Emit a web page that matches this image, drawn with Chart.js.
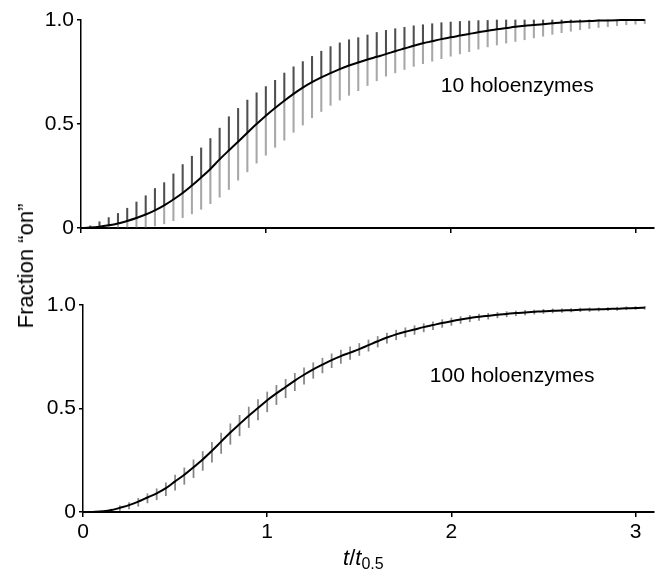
<!DOCTYPE html>
<html>
<head>
<meta charset="utf-8">
<script src="https://cdn.jsdelivr.net/npm/chart.js@4/dist/chart.umd.min.js"></script>
<style>
    body { margin: 0; background: #fff; }
    #wrap { position: relative; width: 664px; height: 571px; font-family: "Liberation Sans", Arial, sans-serif; color: #000; }
    .panel { position: absolute; left: 0; width: 664px; }
    #top-panel { top: 0; height: 250px; }
    #bottom-panel { top: 250px; height: 321px; }
    #y-title { position: absolute; left: 26px; top: 266px; transform: translate(-50%, -50%) rotate(-90deg); font-size: 22px; white-space: nowrap; }
    #x-title { position: absolute; left: 343px; top: 545px; font-size: 22px; white-space: nowrap; }
    #x-title sub { font-size: 16px; font-style: normal; vertical-align: -4px; }
</style>
</head>
<body>
<div id="wrap">
    <div class="panel" id="top-panel"><canvas id="chart-10"></canvas></div>
    <div class="panel" id="bottom-panel"><canvas id="chart-100"></canvas></div>
    <div id="y-title">Fraction “on”</div>
    <div id="x-title"><i>t</i>/<i>t</i><sub>0.5</sub></div>
</div>
<script>
// t / t0.5
const times = [
    0, 0.05, 0.1, 0.15, 0.2, 0.25, 0.3, 0.35, 0.4, 0.45,
    0.5, 0.55, 0.6, 0.65, 0.7, 0.75, 0.8, 0.85, 0.9, 0.95,
    1.0, 1.05, 1.1, 1.15, 1.2, 1.25, 1.3, 1.35, 1.4, 1.45,
    1.5, 1.55, 1.6, 1.65, 1.7, 1.75, 1.8, 1.85, 1.9, 1.95,
    2.0, 2.05, 2.1, 2.15, 2.2, 2.25, 2.3, 2.35, 2.4, 2.45,
    2.5, 2.55, 2.6, 2.65, 2.7, 2.75, 2.8, 2.85, 2.9, 2.95,
    3.0, 3.05,
];

// 10 holoenzymes
const mean10 = [
    0, 0.002, 0.006, 0.013, 0.022, 0.034, 0.048, 0.065, 0.085, 0.109,
    0.137, 0.168, 0.204, 0.243, 0.284, 0.33, 0.373, 0.415, 0.458, 0.5,
    0.54, 0.577, 0.612, 0.645, 0.675, 0.701, 0.724, 0.745, 0.764, 0.781,
    0.796, 0.81, 0.823, 0.836, 0.85, 0.863, 0.876, 0.888, 0.898, 0.908,
    0.917, 0.925, 0.933, 0.941, 0.948, 0.955, 0.961, 0.967, 0.972, 0.976,
    0.98, 0.984, 0.988, 0.991, 0.993, 0.995, 0.997, 0.998, 0.999, 1.0,
    1.0, 1.0,
];
const hi10 = [
    0, 0.01, 0.03, 0.05, 0.07, 0.095, 0.125, 0.155, 0.19, 0.218,
    0.26, 0.305, 0.345, 0.385, 0.43, 0.48, 0.535, 0.575, 0.615, 0.65,
    0.68, 0.71, 0.745, 0.775, 0.8, 0.825, 0.85, 0.872, 0.89, 0.905,
    0.915, 0.928, 0.94, 0.95, 0.958, 0.965, 0.972, 0.977, 0.982, 0.987,
    0.99, 0.993, 0.995, 0.997, 0.998, 1.0, 1.0, 1.0, 1.0, 1.0,
    1.0, 1.0, 1.0, 1.0, 1.0, 1.0, 1.0, 1.0, 1.0, 1.0,
    1.0, 1.0,
];
const lo10 = [
    0, 0, 0, 0, 0, 0, 0, 0.003, 0.01, 0.02,
    0.035, 0.05, 0.068, 0.09, 0.117, 0.148, 0.185, 0.23, 0.27, 0.312,
    0.35, 0.388, 0.422, 0.46, 0.495, 0.53, 0.56, 0.59, 0.615, 0.638,
    0.66, 0.685, 0.708, 0.73, 0.746, 0.762, 0.777, 0.79, 0.802, 0.814,
    0.826, 0.837, 0.848, 0.86, 0.871, 0.88, 0.889, 0.897, 0.905, 0.914,
    0.922, 0.931, 0.939, 0.946, 0.953, 0.959, 0.964, 0.968, 0.973, 0.977,
    0.98, 0.983,
];

// 100 holoenzymes
const mean100 = [
    0, 0, 0.003, 0.008, 0.02, 0.033, 0.05, 0.07, 0.09, 0.115,
    0.148, 0.18, 0.216, 0.254, 0.296, 0.34, 0.384, 0.425, 0.465, 0.502,
    0.54, 0.573, 0.604, 0.635, 0.663, 0.689, 0.712, 0.734, 0.753, 0.77,
    0.787, 0.806, 0.825, 0.843, 0.858, 0.871, 0.882, 0.893, 0.903, 0.913,
    0.922, 0.93, 0.937, 0.943, 0.948, 0.953, 0.957, 0.961, 0.964, 0.967,
    0.97, 0.972, 0.974, 0.975, 0.977, 0.978, 0.979, 0.981, 0.982, 0.984,
    0.985, 0.987,
];
const hi100 = [
    0, 0, 0.006, 0.014, 0.03, 0.046, 0.066, 0.088, 0.112, 0.141,
    0.178, 0.213, 0.252, 0.292, 0.336, 0.381, 0.426, 0.467, 0.507, 0.543,
    0.58, 0.612, 0.641, 0.67, 0.697, 0.721, 0.743, 0.764, 0.782, 0.798,
    0.814, 0.831, 0.848, 0.864, 0.878, 0.89, 0.9, 0.91, 0.919, 0.929,
    0.937, 0.944, 0.95, 0.956, 0.96, 0.964, 0.968, 0.971, 0.974, 0.976,
    0.979, 0.981, 0.982, 0.983, 0.985, 0.986, 0.986, 0.988, 0.989, 0.991,
    0.992, 0.994,
];
const lo100 = [
    0, 0, 0, 0, 0.007, 0.015, 0.028, 0.044, 0.059, 0.079,
    0.106, 0.134, 0.166, 0.201, 0.241, 0.283, 0.327, 0.368, 0.408, 0.445,
    0.484, 0.519, 0.552, 0.586, 0.617, 0.646, 0.672, 0.697, 0.718, 0.737,
    0.756, 0.777, 0.797, 0.816, 0.832, 0.846, 0.858, 0.87, 0.881, 0.892,
    0.902, 0.911, 0.919, 0.926, 0.932, 0.938, 0.943, 0.948, 0.952, 0.956,
    0.959, 0.962, 0.964, 0.966, 0.968, 0.969, 0.971, 0.973, 0.974, 0.977,
    0.978, 0.98,
];

const yTicks = [0, 0.5, 1.0];
const xTicks = [0, 1, 2, 3];

const FONT = "'Liberation Sans', Arial, sans-serif";

const labelPlugin = {
    id: "panelLabel",
    afterDatasetsDraw(chart, args, opts) {
        const ctx = chart.ctx;
        const x = chart.scales.x.getPixelForValue(opts.x);
        const y = chart.scales.y.getPixelForValue(opts.y);
        ctx.save();
        ctx.font = "21px " + FONT;
        ctx.fillStyle = "#000";
        ctx.textAlign = "center";
        ctx.textBaseline = "middle";
        ctx.fillText(opts.text, x, y);
        ctx.restore();
    },
};

function makePanel(canvasId, mean, lo, hi, cfg) {
    const upper = times.map((t, i) => ({ x: t, y: [mean[i], hi[i]] }));
    const lower = times.map((t, i) => ({ x: t, y: [lo[i], mean[i]] }));
    const line = times.map((t, i) => ({ x: t, y: mean[i] }));

    return new Chart(document.getElementById(canvasId), {
        data: {
            datasets: [
                {
                    type: "line",
                    data: line,
                    borderColor: "#000",
                    borderWidth: 2,
                    pointRadius: 0,
                    cubicInterpolationMode: "monotone",
                    clip: 4,
                    order: 0,
                },
                {
                    type: "bar",
                    data: upper,
                    backgroundColor: cfg.upperColor,
                    barThickness: cfg.barWidth,
                    grouped: false,
                    clip: 4,
                    order: 1,
                },
                {
                    type: "bar",
                    data: lower,
                    backgroundColor: cfg.lowerColor,
                    barThickness: cfg.barWidth,
                    grouped: false,
                    clip: 4,
                    order: 2,
                },
            ],
        },
        options: {
            responsive: true,
            maintainAspectRatio: false,
            animation: false,
            events: [],
            layout: { padding: { top: cfg.padTop, right: 10, left: 0, bottom: 0 } },
            plugins: {
                legend: { display: false },
                tooltip: { enabled: false },
                panelLabel: cfg.label,
            },
            scales: {
                x: {
                    type: "linear",
                    min: 0,
                    max: 3.1,
                    offset: false,
                    afterBuildTicks: (scale) => {
                        scale.ticks = xTicks.map((v) => ({ value: v }));
                    },
                    afterFit: (scale) => {
                        scale.height = cfg.xHeight;
                    },
                    ticks: {
                        display: cfg.showXLabels,
                        color: "#000",
                        padding: 3,
                        maxRotation: 0,
                        font: { size: 21, family: FONT },
                        callback: (v) => String(v),
                    },
                    grid: {
                        offset: false,
                        drawOnChartArea: false,
                        tickLength: 5,
                        color: "#000",
                        lineWidth: 1.5,
                    },
                    border: { color: "#000", width: 2 },
                },
                y: {
                    min: 0,
                    max: 1,
                    afterBuildTicks: (scale) => {
                        scale.ticks = yTicks.map((v) => ({ value: v }));
                    },
                    afterFit: (scale) => {
                        scale.width = cfg.yWidth;
                    },
                    ticks: {
                        color: "#000",
                        padding: 3,
                        font: { size: 21, family: FONT },
                        callback: (v) => (v === 0 ? "0" : v.toFixed(1)),
                    },
                    grid: {
                        drawOnChartArea: false,
                        tickLength: 4,
                        color: "#000",
                        lineWidth: 1.5,
                    },
                    border: { color: "#000", width: 1.5 },
                },
            },
        },
        plugins: [labelPlugin],
    });
}

makePanel("chart-10", mean10, lo10, hi10, {
    padTop: 20,
    xHeight: 22,
    yWidth: 81,
    showXLabels: false,
    barWidth: 1.4,
    upperColor: "rgba(20,20,20,0.75)",
    lowerColor: "rgba(120,120,120,0.65)",
    label: { text: "10 holoenzymes", x: 2.36, y: 0.683 },
});

makePanel("chart-100", mean100, lo100, hi100, {
    padTop: 55,
    xHeight: 59,
    yWidth: 83,
    showXLabels: true,
    barWidth: 1.1,
    upperColor: "rgba(100,100,100,0.75)",
    lowerColor: "rgba(50,50,50,0.6)",
    label: { text: "100 holoenzymes", x: 2.33, y: 0.654 },
});
</script>
</body>
</html>
